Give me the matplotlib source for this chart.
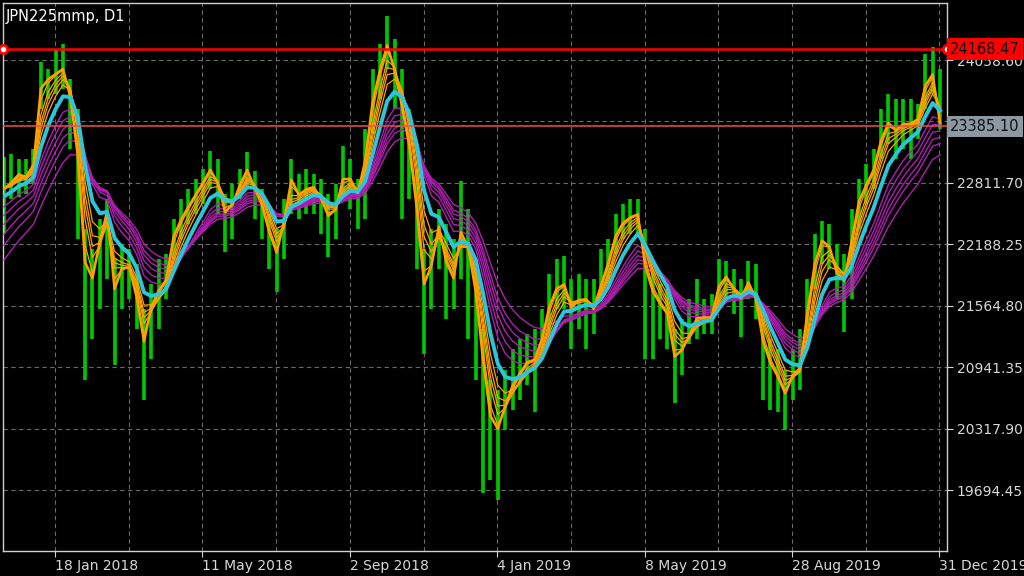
import numpy as np
import matplotlib.pyplot as plt
from matplotlib.transforms import blended_transform_factory

symbol = "JPN225mmp, D1"

closes = [22751, 22822, 22903, 22873, 23005, 23819, 23869, 23920, 23971, 23666,
          23056, 21937, 21835, 22242, 22547, 21683, 21957, 21957, 21632, 21174,
          21581, 21734, 21835, 22293, 22446, 22578, 22700, 22822, 22954, 22802,
          22496, 22598, 22802, 22954, 22751, 22578, 22293, 22090, 22446, 22873,
          22680, 22751, 22771, 22649, 22466, 22547, 22873, 22852, 22700, 23056,
          23666, 23971, 24225, 23941, 23564, 23158, 22517, 21734, 21988, 22395,
          21988, 21835, 22344, 22141, 21683, 20971, 20412, 20310, 20564, 20768,
          20890, 21002, 21022, 21245, 21581, 21754, 21785, 21530, 21632, 21632,
          21530, 21785, 22019, 22293, 22415, 22466, 22496, 21937, 21703, 21581,
          21480, 21022, 21124, 21276, 21449, 21449, 21449, 21785, 21866, 21734,
          21632, 21815, 21632, 21174, 20971, 20839, 20666, 20869, 20940, 21530,
          22019, 22242, 22161, 21886, 21815, 22242, 22649, 22802, 22954, 23259,
          23432, 23341, 23412, 23412, 23463, 23819, 23920, 23385.10]
highs = [23076, 23107, 23056, 23056, 23158, 24042, 23971, 24175, 24225, 23869,
         23564, 22344, 22141, 22446, 22649, 22039, 22191, 22141, 21988, 21530,
         21785, 22039, 22090, 22446, 22649, 22751, 22852, 22954, 23137, 23056,
         22700, 22802, 22954, 23127, 22934, 22751, 22496, 22344, 22649, 23056,
         22903, 22954, 22903, 22852, 22700, 22802, 23188, 23056, 22852, 23361,
         23971, 24225, 24500, 24276, 23971, 23564, 22954, 22141, 22344, 22547,
         22395, 22242, 22832, 22547, 22039, 21327, 20818, 20717, 20920, 21124,
         21225, 21276, 21327, 21530, 21886, 22039, 22069, 21835, 21886, 21835,
         21835, 22141, 22242, 22496, 22598, 22649, 22649, 22344, 21937, 21785,
         21734, 21327, 21429, 21632, 21835, 21632, 21683, 22039, 22019, 21937,
         21835, 22019, 21988, 21429, 21225, 21124, 20920, 21124, 21327, 21835,
         22293, 22425, 22395, 22191, 22090, 22547, 22852, 23005, 23158, 23564,
         23717, 23666, 23666, 23666, 23615, 24124, 24195, 23971]
lows = [22293, 22649, 22669, 22700, 22802, 23564, 23666, 23717, 23768, 23158,
        22242, 20818, 21225, 21530, 21835, 20971, 21530, 21632, 21327, 20615,
        21022, 21327, 21632, 22039, 22242, 22395, 22496, 22598, 22751, 22496,
        22110, 22242, 22649, 22751, 22446, 22242, 21937, 21703, 22039, 22496,
        22446, 22496, 22496, 22293, 22059, 22242, 22700, 22547, 22344, 22446,
        23310, 23666, 23971, 23564, 22446, 22649, 21937, 21073, 21530, 21937,
        21429, 21530, 21835, 21225, 20818, 19669, 19801, 19598, 20310, 20513,
        20615, 20768, 20493, 21022, 21225, 21530, 21530, 21124, 21327, 21124,
        21276, 21632, 21785, 22090, 22242, 22293, 22293, 21022, 21022, 21225,
        21124, 20585, 20869, 21174, 21225, 21276, 21276, 21530, 21632, 21480,
        21245, 21632, 21429, 20615, 20513, 20493, 20310, 20615, 20717, 21225,
        21734, 21988, 21937, 21632, 21296, 21632, 22344, 22598, 22751, 23056,
        23208, 23056, 23158, 23056, 23259, 23564, 23717, 23361]

date_labels = ["18 Jan 2018", "11 May 2018", "2 Sep 2018", "4 Jan 2019",
               "8 May 2019", "28 Aug 2019", "31 Dec 2019"]
price_ticks = [24058.60, 23435.15, 22811.70, 22188.25, 21564.80,
               20941.35, 20317.90, 19694.45]
high_level = 24168.47
last_price = 23385.10

fast_periods = [3, 5, 8, 10, 12, 15]
mid_period = 21
mid_seed = 22640
slow_periods = [30, 35, 40, 45, 50, 60]
slow_seeds = [22517, 22416, 22314, 22203, 22081, 21929]
bars_per_point = 4


def ema(values, period, seed=None):
    a = 1 - (1 - 2 / (period + 1)) ** bars_per_point
    level = values[0] if seed is None else seed
    out = []
    for v in values:
        level += a * (v - level)
        out.append(level)
    return out


xs = np.arange(len(closes)) * bars_per_point
txt = "#d8d8d8"

fig = plt.figure(figsize=(10.24, 5.76), dpi=100, facecolor="black")
ax = fig.add_axes([3 / 1024, 25 / 576, 944 / 1024, 548 / 576], facecolor="black")

ax.vlines(xs, lows, highs, color="#00c800", lw=2.6, zorder=2)
for p, s in zip(slow_periods, slow_seeds):
    ax.plot(xs, ema(closes, p, s), color="#b01eb0", lw=1, zorder=3)
for i, p in enumerate(fast_periods):
    ax.plot(xs, ema(closes, p), color="#ffa000", lw=1.8 if i == 0 else 0.9, zorder=4)
ax.plot(xs, ema(closes, mid_period, mid_seed), color="#2cc6dc", lw=2.8, zorder=5)

ax.set_xlim(-0.54, 511.8)
ax.set_ylim(19080, 24636.6)

# grid every 40 bars, label every 80
first = 27.7
grid_x = first + 40 * np.arange(13)
ax.set_xticks(grid_x, minor=True)
ax.set_xticks(grid_x[::2])
ax.set_xticklabels(date_labels, ha="left", color=txt, fontsize=10)
ax.set_yticks(price_ticks)
# the 23435.15 label sits under the last-price box, so it is left blank
ax.set_yticklabels(["" if v == 23435.15 else f"{v:.2f}" for v in price_ticks],
                   color=txt, fontsize=10)
ax.yaxis.tick_right()
ax.tick_params(axis="x", which="major", length=4, color=txt, pad=2)
ax.tick_params(axis="x", which="minor", length=0)
ax.tick_params(axis="y", length=4, color=txt, pad=3)
ax.grid(True, which="both", color="#6a6a6a", ls=(0, (4, 3)), lw=0.8, zorder=1)
for sp in ax.spines.values():
    sp.set_color("#d0d0d0")
    sp.set_linewidth(1)

ax.axhline(high_level, color="#ff0000", lw=1.8, zorder=6)
ax.plot([0, 1], [high_level, high_level], "o", ms=6, mfc="white", mec="#ff0000",
        mew=2, transform=blended_transform_factory(ax.transAxes, ax.transData),
        clip_on=False, zorder=7)
ax.axhline(last_price, color="#e85050", lw=1.1, zorder=6)

tr = blended_transform_factory(ax.transAxes, ax.transData)
ax.text(1.003, high_level, f"{high_level:.2f}", transform=tr, va="center", ha="left",
        fontsize=10.5, color="#101010", zorder=10,
        bbox=dict(boxstyle="square,pad=0.22", fc="#ff0000", ec="none"))
ax.text(1.003, last_price, f"{last_price:.2f}", transform=tr, va="center", ha="left",
        fontsize=10.5, color="#101010", zorder=10,
        bbox=dict(boxstyle="square,pad=0.22", fc="#8c98a2", ec="none"))

fig.text(6 / 1024, 1 - 16 / 576, symbol, color="white", fontsize=10.5, va="center")

fig.savefig("out.png", dpi=100, facecolor="black")
